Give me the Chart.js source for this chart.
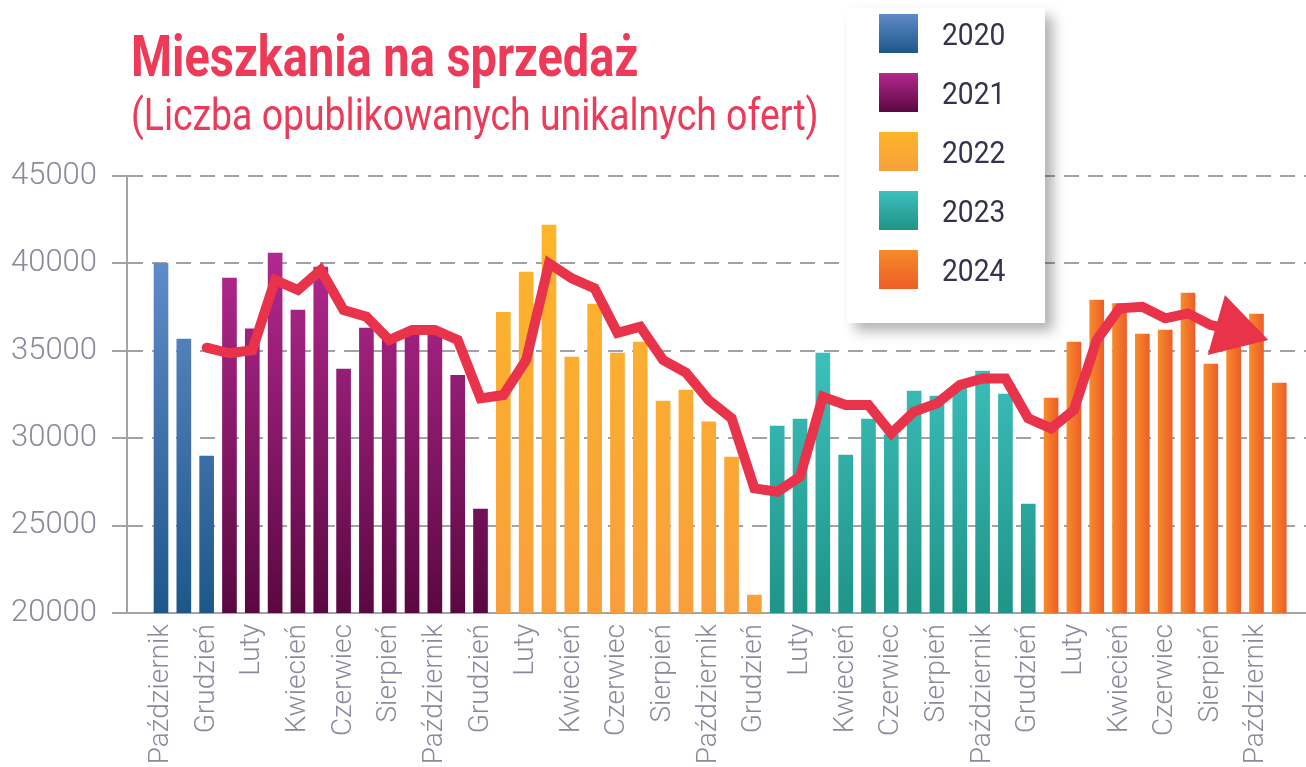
<!DOCTYPE html>
<html lang="pl">
<head>
<meta charset="utf-8">
<title>Mieszkania na sprzedaż</title>
<script src="https://cdn.jsdelivr.net/npm/chart.js@4.4.1/dist/chart.umd.min.js"></script>
<style>
  html, body { margin: 0; padding: 0; background: #fff; }
  #wrap { position: relative; width: 1306px; height: 767px; overflow: hidden; font-family: Roboto, sans-serif; }
  #chart { position: absolute; left: 0; top: 0; }
  .title { position: absolute; left: 131px; margin: 0; white-space: nowrap; line-height: 1; color: #ec3a58; transform-origin: 0 0; }
  #title { top: 27px; font-size: 58px; font-weight: 700; }
  #subtitle { top: 93px; font-size: 44px; font-weight: 400; }
  #legend { position: absolute; left: 847px; top: 8px; width: 198px; height: 315px; background: #fff;
            box-shadow: 8px 8px 12px rgba(0, 0, 0, 0.3); }
  .item { position: absolute; left: 32px; height: 39px; display: flex; align-items: center; }
  .swatch { width: 39px; height: 39px; }
  .item span { display: inline-block; margin-left: 24px; font-size: 32px; color: #34334f; transform: scaleX(0.88); transform-origin: 0 50%; }
</style>
</head>
<body>
<div id="wrap">
  <canvas id="chart" width="1306" height="767"></canvas>
  <div class="title" id="title">Mieszkania na sprzedaż</div>
  <div class="title" id="subtitle">(Liczba opublikowanych unikalnych ofert)</div>
  <div id="legend"></div>
</div>
<script>
// month names, the series runs from October 2020 to November 2024
const monthNames = ['Styczeń', 'Luty', 'Marzec', 'Kwiecień', 'Maj', 'Czerwiec',
  'Lipiec', 'Sierpień', 'Wrzesień', 'Październik', 'Listopad', 'Grudzień'];
const months = [].concat(monthNames.slice(9), monthNames, monthNames, monthNames, monthNames.slice(0, 11));

const years = ['2020', '2021', '2022', '2023', '2024'];

// number of unique offers per month
const offers2020 = [40000, 35670, 28980];
const offers2021 = [39160, 36250, 40590, 37330, 39790, 33960, 36300, 35600, 36050, 36000, 33600, 25950];
const offers2022 = [37200, 39500, 42190, 34640, 37670, 34870, 35500, 32130, 32760, 30930, 28920, 21030];
const offers2023 = [30700, 31100, 34870, 29040, 31100, 30200, 32700, 32410, 32900, 33840, 32530, 26230];
const offers2024 = [32300, 35500, 37900, 37700, 35960, 36190, 38300, 34240, 35300, 37100, 33160];

// trend line (starts in December 2020, ends with the arrow in September 2024)
const trend = [null, null, 35180,
  34860, 35040, 39050, 38480, 39620, 37330, 36950, 35620, 36190, 36190, 35620, 32280,
  32470, 34470, 40000, 39140, 38570, 36030, 36380, 34470, 33750, 32180, 31140, 27130,
  26940, 27800, 32370, 31900, 31900, 30280, 31520, 31990, 33040, 33420, 33420, 31140,
  30560, 31610, 35620, 37430, 37520, 36860, 37140, 36470, 36190, null, null];

const yTicks = [20000, 25000, 30000, 35000, 40000, 45000];

// colours: [top, bottom] (2024 is [left, right] on the bars)
const yearColors = [
  ['#5f8bc8', '#1d578a'],
  ['#b3288f', '#5a0841'],
  ['#fdb52a', '#f89f3c'],
  ['#3cc0bc', '#1f9488'],
  ['#f68b2b', '#ee5e28']
];
const lineColor = '#e8334a';
const axisColor = '#a3a2a9';
const tickColor = '#8c899c';

const yearValues = [offers2020, offers2021, offers2022, offers2023, offers2024];

function barFill(context, k) {
  const chart = context.chart;
  const area = chart.chartArea;
  if (!area || context.type !== 'data') return yearColors[k][0];
  const c = chart.ctx;
  let g;
  if (k === 4) {
    const x = chart.scales.x.getPixelForValue(context.raw.x);
    g = c.createLinearGradient(x - 7, 0, x + 7, 0);
  } else {
    const top = chart.scales.y.getPixelForValue(Math.max(...yearValues[k]));
    g = c.createLinearGradient(0, top, 0, area.bottom);
  }
  g.addColorStop(0, yearColors[k][0]);
  g.addColorStop(1, yearColors[k][1]);
  return g;
}

let start = 0;
const barSets = years.map((year, k) => {
  const first = start;
  start += yearValues[k].length;
  return {
    type: 'bar',
    label: year,
    order: 1,
    data: yearValues[k].map((v, i) => ({ x: first + i, y: v })),
    backgroundColor: ctx => barFill(ctx, k),
    barThickness: 14,
    grouped: false
  };
});

const trendPoints = trend.map((v, i) => ({ x: i, y: v })).filter(p => p.y !== null);
const lastPoint = trendPoints.length - 1;

const trendSet = {
  type: 'line',
  label: 'trend',
  order: 0,
  data: trendPoints,
  borderColor: lineColor,
  borderWidth: 10,
  tension: 0,
  borderCapStyle: 'round',
  borderJoinStyle: 'miter',
  pointStyle: 'triangle',
  pointRotation: 106,
  pointRadius: ctx => (ctx.dataIndex === lastPoint ? 36 : 0),
  pointHoverRadius: ctx => (ctx.dataIndex === lastPoint ? 36 : 0),
  pointBackgroundColor: lineColor,
  pointBorderWidth: 0
};

const chart = new Chart(document.getElementById('chart'), {
  data: { datasets: [trendSet].concat(barSets) },
  options: {
    responsive: false,
    animation: false,
    layout: { autoPadding: false, padding: { top: 176, left: 0, right: 0, bottom: 0 } },
    plugins: { legend: { display: false }, tooltip: { enabled: false } },
    scales: {
      x: {
        type: 'linear',
        offset: false,
        min: -1.49,
        max: 50.17,
        grid: { display: false, drawTicks: false, offset: false },
        border: { display: true, color: axisColor, width: 2 },
        ticks: {
          autoSkip: false,
          minRotation: 90,
          maxRotation: 90,
          padding: 11,
          color: tickColor,
          font: { family: 'Roboto', size: 28, weight: '300' },
          callback: v => months[v]
        },
        afterBuildTicks: scale => {
          scale.ticks = months.map((m, i) => i).filter(i => i % 2 === 0).map(i => ({ value: i }));
        },
        afterFit: scale => {
          scale.height = 154;
          scale.paddingLeft = 0;
          scale.paddingRight = 0;
        }
      },
      y: {
        min: 20000,
        max: 45000,
        grid: {
          color: axisColor,
          lineWidth: 2,
          tickLength: 15,
          tickColor: axisColor,
          tickWidth: 2,
          tickBorderDash: []
        },
        border: { display: true, color: axisColor, width: 2, dash: [15, 9] },
        ticks: {
          padding: 15,
          color: tickColor,
          font: { family: 'Roboto', size: 31, weight: '300' },
          callback: v => String(v)
        },
        afterBuildTicks: scale => {
          scale.ticks = yTicks.map(v => ({ value: v }));
        },
        afterFit: scale => { scale.width = 127; }
      }
    }
  }
});

// html legend with the year swatches
const legend = document.getElementById('legend');
chart.data.datasets.filter(d => d.type === 'bar').forEach((d, i) => {
  const item = document.createElement('div');
  item.className = 'item';
  item.style.top = (6 + i * 59) + 'px';
  const sw = document.createElement('div');
  sw.className = 'swatch';
  sw.style.background = 'linear-gradient(' + yearColors[i][0] + ', ' + yearColors[i][1] + ')';
  const txt = document.createElement('span');
  txt.textContent = d.label;
  item.appendChild(sw);
  item.appendChild(txt);
  legend.appendChild(item);
});

// squeeze the titles to the condensed width of the original
function fitWidth(id, target) {
  const el = document.getElementById(id);
  el.style.transform = 'scaleX(' + (target / el.offsetWidth) + ')';
}
fitWidth('title', 507);
fitWidth('subtitle', 688);
</script>
</body>
</html>
